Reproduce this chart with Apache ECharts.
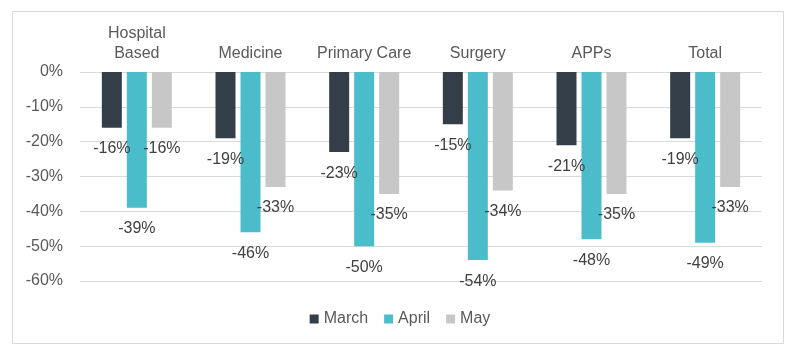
<!DOCTYPE html>
<html>
<head>
<meta charset="utf-8">
<script src="https://cdn.jsdelivr.net/npm/echarts@6/dist/echarts.min.js"></script>
<style>html,body{margin:0;padding:0;background:#fff}#c{width:800px;height:356px}</style>
</head>
<body>
<div id="c"></div>
<script>
const categories = ['Hospital\nBased', 'Medicine', 'Primary Care', 'Surgery', 'APPs', 'Total'];
const seriesNames = ['March', 'April', 'May'];
const march = [-16, -19, -23, -15, -21, -19];
const april = [-39, -46, -50, -54, -48, -49];
const may = [-16, -33, -35, -34, -35, -33];
const yTicks = { min: -60, max: 0, interval: 10 };

const colors = ['#343e48', '#4bbdca', '#c7c7c7'];
const font = 'Liberation Sans, Arial, sans-serif';
const chart = echarts.init(document.getElementById('c'), null, { renderer: 'canvas' });

function mkSeries(name, data, i) {
  return {
    name: name,
    type: 'bar',
    data: data,
    barWidth: 20,
    barGap: '25%',
    itemStyle: { color: colors[i] },
    label: {
      show: true,
      position: 'bottom',
      distance: 13,
      formatter: p => p.value + '%',
      color: '#404040',
      fontSize: 16,
      fontFamily: font
    },
    emphasis: { disabled: true }
  };
}

chart.setOption({
  animation: false,
  backgroundColor: '#fff',
  graphic: [{
    type: 'rect',
    shape: { x: 12.5, y: 11.5, width: 771, height: 332 },
    style: { fill: 'none', stroke: '#d9d9d9', lineWidth: 1 },
    z: -1
  }],
  grid: { left: 80, right: 38, top: 72, bottom: 75 },
  legend: {
    data: seriesNames,
    left: 'center',
    top: 306,
    itemWidth: 9,
    itemHeight: 9,
    itemGap: 16,
    icon: 'rect',
    textStyle: { color: '#595959', fontSize: 16, fontFamily: font }
  },
  xAxis: {
    type: 'category',
    position: 'top',
    data: categories,
    axisLine: { show: false },
    axisTick: { show: false },
    axisLabel: {
      color: '#595959',
      fontSize: 16,
      fontFamily: font,
      margin: 8,
      lineHeight: 20,
      interval: 0
    }
  },
  yAxis: {
    type: 'value',
    min: yTicks.min,
    max: yTicks.max,
    interval: yTicks.interval,
    axisLine: { show: false },
    axisTick: { show: false },
    splitLine: { lineStyle: { color: '#d9d9d9', width: 1 } },
    axisLabel: {
      formatter: v => v + '%',
      color: '#595959',
      fontSize: 16,
      fontFamily: font,
      margin: 17
    }
  },
  series: [
    mkSeries(seriesNames[0], march, 0),
    mkSeries(seriesNames[1], april, 1),
    mkSeries(seriesNames[2], may, 2)
  ]
});
</script>
</body>
</html>
